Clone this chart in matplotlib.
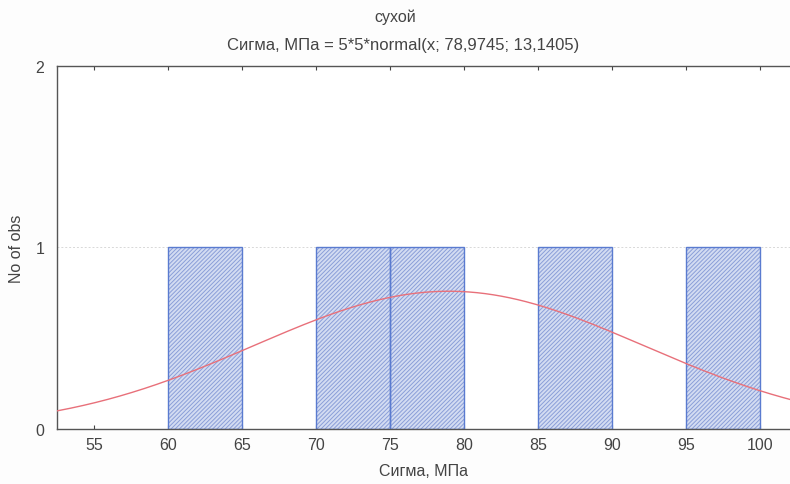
import numpy as np
import matplotlib
matplotlib.use("Agg")
import matplotlib.pyplot as plt

# histogram: bins of width 5, count per bin
bin_left = [55, 60, 65, 70, 75, 80, 85, 90, 95]
counts = [0, 1, 0, 1, 1, 0, 1, 0, 1]
bin_width = 5

# fitted normal from the title: 5*5*normal(x; 78,9745; 13,1405)
n_obs = 5
mean = 78.9745
sd = 13.1405

xticks = [55, 60, 65, 70, 75, 80, 85, 90, 95, 100]
yticks = [0, 1, 2]

plt.rcParams["font.family"] = ["Liberation Sans", "DejaVu Sans"]
plt.rcParams["hatch.linewidth"] = 0.7
plt.rcParams["hatch.color"] = "#8a9ed8"

fig = plt.figure(figsize=(7.9, 4.85), dpi=100)
fig.patch.set_facecolor("#fdfdfd")
ax = fig.add_axes([0.072, 0.1134, 0.928, 0.7485])
ax.set_facecolor("white")

lefts = [l for l, c in zip(bin_left, counts) if c > 0]
heights = [c for c in counts if c > 0]
# hatch fill, then a plain outline on top
ax.bar(lefts, heights, width=bin_width, align="edge",
       facecolor="#d3dcf2", edgecolor="#8a9ed8", hatch="////////", linewidth=0, zorder=2)
ax.bar(lefts, heights, width=bin_width, align="edge",
       facecolor="none", edgecolor="#5a7bd0", linewidth=1.0, zorder=2.5)

xs = np.linspace(50, 105, 400)
pdf = n_obs * bin_width * np.exp(-0.5 * ((xs - mean) / sd) ** 2) / (sd * np.sqrt(2 * np.pi))
ax.plot(xs, pdf, color="#e8707a", linewidth=1.0, zorder=3)

ax.axhline(1, color="#d8d8d8", linewidth=0.7, linestyle=(0, (2, 2)), zorder=1)

ax.set_xlim(52.5, 102.03)
ax.set_ylim(0, 2)
ax.set_xticks(xticks)
ax.set_yticks(yticks)
ax.tick_params(axis="both", direction="in", length=3, labelsize=11.5, colors="#444444",
               top=True, right=False, pad=6)
ax.tick_params(axis="y", length=0, pad=9)
for side in ["left", "bottom", "top"]:
    ax.spines[side].set_color("#555555")
    ax.spines[side].set_linewidth(1.0)
ax.spines["right"].set_visible(False)

ax.set_xlabel("Сигма, МПа", fontsize=11.5, color="#444444", labelpad=8)
ax.set_ylabel("No of obs", fontsize=11.5, color="#444444", labelpad=8)
fig.text(0.5, 0.965, "сухой", ha="center", va="center", fontsize=11.5, color="#444444")
fig.text(0.51, 0.907, "Сигма, МПа = 5*5*normal(x; 78,9745; 13,1405)", ha="center", va="center",
         fontsize=12, color="#444444")

fig.savefig("out.png", dpi=100, facecolor=fig.get_facecolor())
